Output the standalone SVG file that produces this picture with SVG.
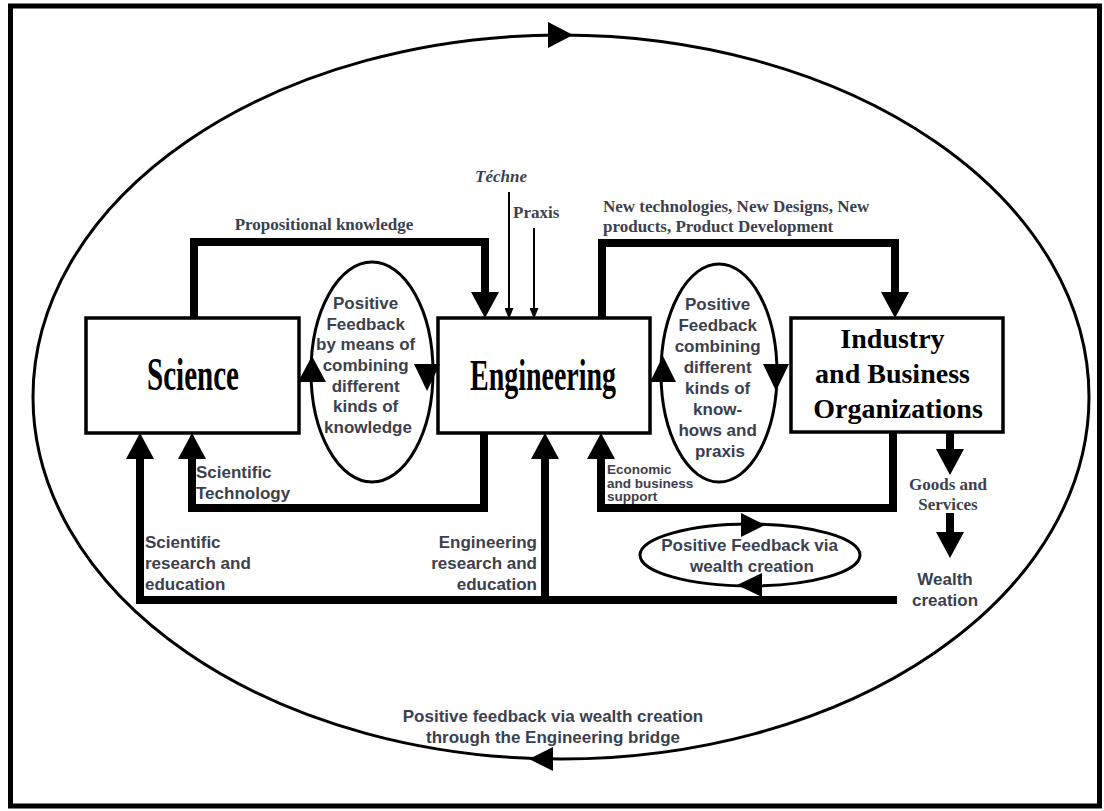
<svg xmlns="http://www.w3.org/2000/svg" width="1104" height="811" viewBox="0 0 1104 811">
<defs>
<style>
.frame{fill:#fff;stroke:#000;stroke-width:5}
.ring{fill:none;stroke:#000;stroke-width:3}
.box{fill:#fff;stroke:#000;stroke-width:3.5}
.loop{fill:none;stroke:#000;stroke-width:3}
.thick{fill:none;stroke:#000;stroke-width:8;stroke-linejoin:miter;stroke-linecap:butt}
.thin{fill:none;stroke:#000;stroke-width:2}
.head{fill:#000}
.title{font-family:"Liberation Serif","Times New Roman",serif;font-weight:bold;fill:#000}
.lbl{font-family:"Liberation Serif","Times New Roman",serif;font-weight:bold;font-size:17px;fill:#3c3f4e}
.sans{font-family:"Liberation Sans",Arial,sans-serif;font-weight:bold;font-size:17px;fill:#3c3f4e}
.small{font-size:13.5px}
</style>
<marker id="big" markerUnits="userSpaceOnUse" viewBox="0 0 26 28" markerWidth="26" markerHeight="28" refX="0" refY="14" orient="auto"><path d="M0,0 L26,14 L0,28 z" fill="#000"/></marker>
<marker id="tiny" markerUnits="userSpaceOnUse" viewBox="0 0 11 9" markerWidth="11" markerHeight="9" refX="0" refY="4.5" orient="auto"><path d="M0,0 L11,4.5 L0,9 z" fill="#000"/></marker>
</defs>

<rect class="frame" x="10.5" y="6" width="1089" height="800"/>

<g id="outer-loop">
<ellipse class="ring" cx="561" cy="397" rx="528" ry="362"/>
<polygon class="head" points="548,22 548,48 573,35"/>
<polygon class="head" points="553,747 553,771 529,759"/>
<text class="sans" x="553" y="722" text-anchor="middle">Positive feedback via wealth creation</text>
<text class="sans" x="553" y="743" text-anchor="middle">through the Engineering bridge</text>
</g>

<g id="connectors">
<path class="thick" d="M194,318 V242 H485 V292" marker-end="url(#big)"/>
<path class="thin" d="M509,192 V308" marker-end="url(#tiny)"/>
<path class="thin" d="M534,228 V308" marker-end="url(#tiny)"/>
<path class="thick" d="M602,318 V243 H895 V292" marker-end="url(#big)"/>
<path class="thick" d="M484,433 V508 H192 V459" marker-end="url(#big)"/>
<path class="thick" d="M897,600 H140 V459" marker-end="url(#big)"/>
<path class="thick" d="M545,600 V459" marker-end="url(#big)"/>
<path class="thick" d="M893,432 V508 H601 V459" marker-end="url(#big)"/>
<path class="thick" d="M950,432 V449" marker-end="url(#big)"/>
<path class="thick" d="M950,513 V532" marker-end="url(#big)"/>
</g>

<g id="science">
<rect class="box" x="86" y="318" width="213" height="115"/>
<text class="title" x="193" y="390" text-anchor="middle" font-size="47" textLength="92" lengthAdjust="spacingAndGlyphs">Science</text>
</g>

<g id="engineering">
<rect class="box" x="438" y="318" width="212" height="115"/>
<text class="title" x="543" y="390" text-anchor="middle" font-size="45" textLength="146" lengthAdjust="spacingAndGlyphs">Engineering</text>
</g>

<g id="industry">
<rect class="box" x="791" y="318" width="212" height="114"/>
<text class="title" font-size="28" text-anchor="middle">
<tspan x="896" y="348">Industry</tspan>
<tspan x="896" y="383">and Business</tspan>
<tspan x="898" y="418">Organizations</tspan>
</text>
</g>

<g id="feedback-knowledge">
<ellipse class="loop" cx="372" cy="372" rx="61" ry="110"/>
<polygon class="head" points="298,382 326,382 312,356"/>
<polygon class="head" points="414,364 440,364 427,391"/>
<text class="sans" text-anchor="middle">
<tspan x="368" y="309">Positive</tspan>
<tspan x="368" y="330">Feedback</tspan>
<tspan x="368" y="350">by means of</tspan>
<tspan x="368" y="371">combining</tspan>
<tspan x="368" y="392">different</tspan>
<tspan x="368" y="412">kinds of</tspan>
<tspan x="368" y="433">knowledge</tspan>
</text>
</g>

<g id="feedback-knowhow">
<ellipse class="loop" cx="719" cy="373" rx="58" ry="109"/>
<polygon class="head" points="650,382 676,382 663,356"/>
<polygon class="head" points="763,364 789,364 776,391"/>
<text class="sans" text-anchor="middle">
<tspan x="720" y="310">Positive</tspan>
<tspan x="720" y="331">Feedback</tspan>
<tspan x="720" y="352">combining</tspan>
<tspan x="720" y="373">different</tspan>
<tspan x="720" y="394">kinds of</tspan>
<tspan x="720" y="415">know-</tspan>
<tspan x="720" y="436">hows and</tspan>
<tspan x="720" y="457">praxis</tspan>
</text>
</g>

<g id="feedback-wealth">
<ellipse class="loop" cx="750" cy="555" rx="110" ry="31"/>
<polygon class="head" points="741,513 741,537 765,525"/>
<polygon class="head" points="762,573 762,597 737,585"/>
<text class="sans" text-anchor="middle">
<tspan x="752" y="551">Positive Feedback via</tspan>
<tspan x="752" y="572">wealth creation</tspan>
</text>
</g>

<g id="labels">
<text class="lbl" x="324" y="230" text-anchor="middle">Propositional knowledge</text>
<text class="lbl" x="475" y="182" font-style="italic">Téchne</text>
<text class="lbl" x="513" y="218">Praxis</text>
<text class="lbl" x="603" y="212">New technologies, New Designs, New</text>
<text class="lbl" x="603" y="232">products, Product Development</text>
<text class="sans" x="196" y="478">Scientific</text>
<text class="sans" x="196" y="499">Technology</text>
<text class="sans" x="145" y="548">Scientific</text>
<text class="sans" x="145" y="569">research and</text>
<text class="sans" x="145" y="590">education</text>
<text class="sans" x="537" y="548" text-anchor="end">Engineering</text>
<text class="sans" x="537" y="569" text-anchor="end">research and</text>
<text class="sans" x="537" y="590" text-anchor="end">education</text>
<text class="sans small" x="607" y="474">Economic</text>
<text class="sans small" x="607" y="487.5">and business</text>
<text class="sans small" x="607" y="501">support</text>
<text class="lbl" x="948" y="490" text-anchor="middle">Goods and</text>
<text class="lbl" x="948" y="510" text-anchor="middle">Services</text>
<text class="sans" x="945" y="585" text-anchor="middle">Wealth</text>
<text class="sans" x="945" y="606" text-anchor="middle">creation</text>
</g>
</svg>
